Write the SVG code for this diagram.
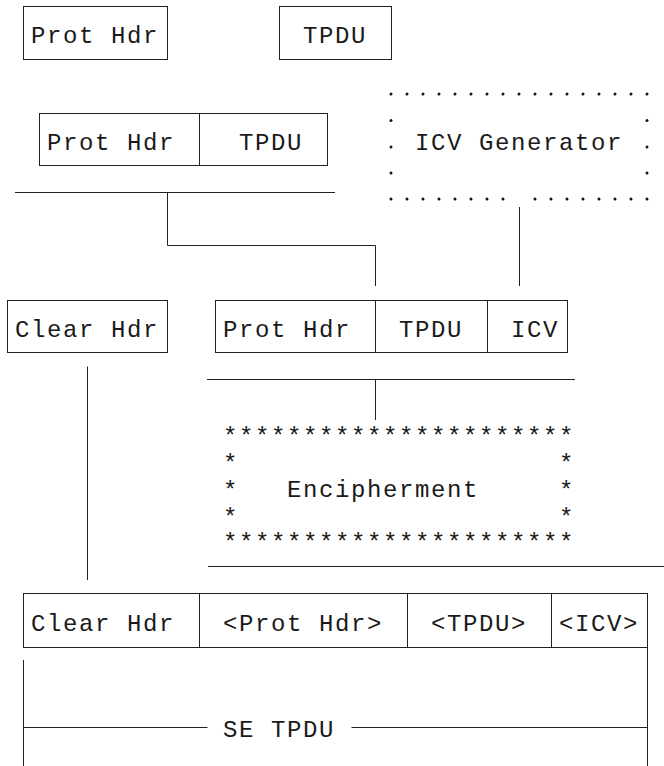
<svg xmlns="http://www.w3.org/2000/svg" width="664" height="766" viewBox="0 0 664 766">
<style>
.b{fill:none;stroke:#222;stroke-width:1}
.l{fill:none;stroke:#222;stroke-width:1}
text{font-family:"Liberation Mono","Courier New",monospace;font-size:24px;letter-spacing:1.6px;fill:#1a1a1a}
.d{fill:#111}
</style>
<defs>
<circle id="dot" r="1.5" class="d"/>
</defs>
<rect width="664" height="766" fill="#fff"/>
<g id="prot-hdr-1">
<rect class="b" x="23.5" y="6.5" width="144" height="53"/>
<text x="31" y="43">Prot Hdr</text>
</g>
<g id="tpdu-1">
<rect class="b" x="279.5" y="6.5" width="112" height="53"/>
<text x="303" y="43">TPDU</text>
</g>
<g id="prot-hdr-tpdu">
<rect class="b" x="39.5" y="113.5" width="288" height="52"/>
<path class="b" d="M199.5 113.5V165.5"/>
<text x="47" y="150">Prot Hdr</text>
<text x="239" y="150">TPDU</text>
</g>
<g id="icv-generator">
<g>
<use href="#dot" x="391" y="94"/><use href="#dot" x="407" y="94"/><use href="#dot" x="423" y="94"/><use href="#dot" x="439" y="94"/><use href="#dot" x="455" y="94"/><use href="#dot" x="471" y="94"/><use href="#dot" x="487" y="94"/><use href="#dot" x="503" y="94"/><use href="#dot" x="519" y="94"/><use href="#dot" x="535" y="94"/><use href="#dot" x="551" y="94"/><use href="#dot" x="567" y="94"/><use href="#dot" x="583" y="94"/><use href="#dot" x="599" y="94"/><use href="#dot" x="615" y="94"/><use href="#dot" x="631" y="94"/><use href="#dot" x="647" y="94"/>
<use href="#dot" x="391" y="120.5"/><use href="#dot" x="647" y="120.5"/>
<use href="#dot" x="391" y="147"/><use href="#dot" x="647" y="147"/>
<use href="#dot" x="391" y="173"/><use href="#dot" x="647" y="173"/>
<use href="#dot" x="391" y="199"/><use href="#dot" x="407" y="199"/><use href="#dot" x="423" y="199"/><use href="#dot" x="439" y="199"/><use href="#dot" x="455" y="199"/><use href="#dot" x="471" y="199"/><use href="#dot" x="487" y="199"/><use href="#dot" x="503" y="199"/><use href="#dot" x="535" y="199"/><use href="#dot" x="551" y="199"/><use href="#dot" x="567" y="199"/><use href="#dot" x="583" y="199"/><use href="#dot" x="599" y="199"/><use href="#dot" x="615" y="199"/><use href="#dot" x="631" y="199"/><use href="#dot" x="647" y="199"/>
</g>
<text x="415" y="150">ICV Generator</text>
</g>
<g id="clear-hdr">
<rect class="b" x="7.5" y="300.5" width="160" height="52"/>
<text x="15" y="337">Clear Hdr</text>
</g>
<g id="prot-hdr-tpdu-icv">
<rect class="b" x="215.5" y="300.5" width="352" height="52"/>
<path class="b" d="M375.5 300.5V352.5M487.5 300.5V352.5"/>
<text x="223" y="337">Prot Hdr</text>
<text x="399" y="337">TPDU</text>
<text x="511" y="337">ICV</text>
</g>
<g id="encipherment">
<text x="223" y="444">**********************</text>
<text x="223" y="471">*</text><text x="559" y="471">*</text>
<text x="223" y="498">*</text><text x="559" y="498">*</text>
<text x="223" y="525">*</text><text x="559" y="525">*</text>
<text x="223" y="550">**********************</text>
<text x="287" y="497">Encipherment</text>
</g>
<g id="se-tpdu">
<rect class="b" x="23.5" y="593.5" width="624" height="54"/>
<path class="b" d="M199.5 593.5V647.5M407.5 593.5V647.5M551.5 593.5V647.5"/>
<text x="31" y="631">Clear Hdr</text>
<text x="223" y="631">&lt;Prot Hdr&gt;</text>
<text x="431" y="631">&lt;TPDU&gt;</text>
<text x="559" y="631">&lt;ICV&gt;</text>
</g>
<g id="se-tpdu-span">
<path class="l" d="M23.5 660V766M647.5 647.5V766M23.5 727.5H207.5M351.5 727.5H647.5"/>
<text x="223" y="737">SE TPDU</text>
</g>
<g id="connectors">
<path class="l" d="M15 192.5H335"/>
<path class="l" d="M167.5 192.5V245.5H375.5V286"/>
<path class="l" d="M519.5 207V286"/>
<path class="l" d="M87.5 366.5V580"/>
<path class="l" d="M207 379.5H575"/>
<path class="l" d="M375.5 379.5V420"/>
<path class="l" d="M208 566.5H664"/>
</g>
</svg>
